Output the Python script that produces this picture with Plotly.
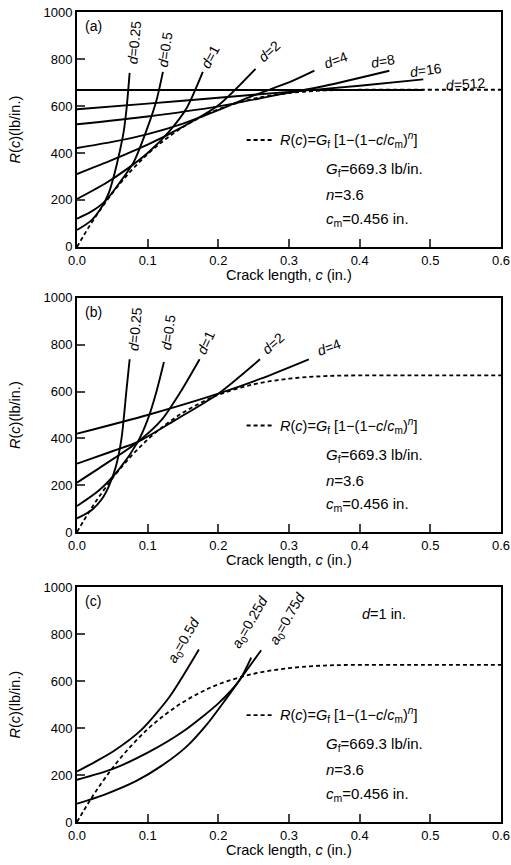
import plotly.graph_objects as go

# ---------------- data ----------------
# Envelope R(c) (dashed), same in all three panels
env_c = [0, 0.01, 0.02, 0.03, 0.05, 0.075, 0.1, 0.125, 0.15, 0.175, 0.2, 0.25, 0.3, 0.35, 0.4, 0.456, 0.5, 0.6]
env_R = [0, 51, 100, 145, 229, 319, 395, 458, 510, 552, 586, 631, 655, 666, 669, 669, 669, 669]

# Panel (a): R-curves for various sizes d
a_d025_c = [0, 0.02, 0.035, 0.045, 0.052, 0.06, 0.066, 0.07, 0.0745]
a_d025_R = [72, 112, 170, 230, 300, 400, 490, 585, 741]
a_d05_c = [0, 0.02, 0.04, 0.06, 0.08, 0.1, 0.113, 0.1216]
a_d05_R = [120, 150, 195, 272, 360, 510, 630, 745]
a_d1_c = [0, 0.04, 0.07, 0.1, 0.13, 0.155, 0.178]
a_d1_R = [204, 270, 330, 400, 490, 590, 745]
a_d2_c = [0, 0.05, 0.1, 0.15, 0.2, 0.2526]
a_d2_R = [310, 370, 435, 512, 603, 758]
a_d4_c = [0, 0.05, 0.1, 0.15, 0.2, 0.25, 0.3, 0.336]
a_d4_R = [421, 447, 480, 525, 582, 645, 700, 750]
a_d8_c = [0, 0.1, 0.2, 0.28, 0.35, 0.442]
a_d8_R = [522, 555, 598, 645, 685, 750]
a_d16_c = [0, 0.1, 0.2, 0.3, 0.4, 0.49]
a_d16_R = [586, 610, 635, 660, 686, 713]
a_d512_c = [0, 0.49]
a_d512_R = [668, 668]

# Panel (b)
b_d025_c = [0, 0.02, 0.035, 0.045, 0.055, 0.063, 0.07, 0.0745]
b_d025_R = [58, 92, 140, 195, 280, 400, 606, 738]
b_d05_c = [0, 0.03, 0.06, 0.086, 0.1, 0.113, 0.123]
b_d05_R = [111, 175, 270, 385, 480, 606, 726]
b_d1_c = [0, 0.04, 0.086, 0.12, 0.148, 0.1735]
b_d1_R = [211, 290, 385, 480, 606, 738]
b_d2_c = [0, 0.05, 0.086, 0.14, 0.2, 0.259]
b_d2_R = [292, 345, 385, 480, 591, 738]
b_d4_c = [0, 0.1, 0.2, 0.26, 0.328]
b_d4_R = [420, 500, 591, 655, 738]

# Panel (c): d = 1 in., various notch depths a0
c_a05_c = [0, 0.025, 0.051, 0.091, 0.131, 0.1725]
c_a05_R = [215, 255, 300, 392, 533, 734]
c_a025_c = [0, 0.05, 0.1, 0.15, 0.2, 0.23, 0.2465]
c_a025_R = [180, 225, 295, 385, 505, 604, 700]
c_a075_c = [0, 0.04, 0.084, 0.12, 0.155, 0.185, 0.21, 0.235, 0.2606]
c_a075_R = [78, 118, 175, 240, 321, 420, 520, 625, 731]

x_ticks = [0, 0.1, 0.2, 0.3, 0.4, 0.5, 0.6]
x_ticklabels = ["0.0", "0.1", "0.2", "0.3", "0.4", "0.5", "0.6"]
y_ticks = [0, 200, 400, 600, 800, 1000]
y_ticklabels = ["0", "200", "400", "600", "800", "1000"]

# ---------------- figure ----------------
FONT = "Liberation Sans"
fig = go.Figure()

panels = [
    ("x", "y", [(a_d025_c, a_d025_R), (a_d05_c, a_d05_R), (a_d1_c, a_d1_R), (a_d2_c, a_d2_R),
                (a_d4_c, a_d4_R), (a_d8_c, a_d8_R), (a_d16_c, a_d16_R), (a_d512_c, a_d512_R)]),
    ("x2", "y2", [(b_d025_c, b_d025_R), (b_d05_c, b_d05_R), (b_d1_c, b_d1_R), (b_d2_c, b_d2_R),
                  (b_d4_c, b_d4_R)]),
    ("x3", "y3", [(c_a05_c, c_a05_R), (c_a025_c, c_a025_R), (c_a075_c, c_a075_R)]),
]

for xa, ya, curves in panels:
    fig.add_trace(go.Scatter(x=env_c, y=env_R, mode="lines", xaxis=xa, yaxis=ya,
                             line=dict(color="black", width=1.8, dash="4px,3px", shape="spline"),
                             showlegend=False, hoverinfo="skip"))
    for cx, cy in curves:
        fig.add_trace(go.Scatter(x=cx, y=cy, mode="lines", xaxis=xa, yaxis=ya,
                                 line=dict(color="black", width=1.9, shape="spline", smoothing=0.7),
                                 showlegend=False, hoverinfo="skip"))

W, H = 511, 865
ML, MR, MT, MB = 77, 10, 12, 43
domains = {"": [0.710, 1.0], "2": [0.358, 0.647], "3": [0.0, 0.290]}
for k, dom in domains.items():
    xa = dict(domain=[0, 1], range=[0, 0.6], tickvals=x_ticks, ticktext=x_ticklabels,
              ticks="inside", ticklen=8, tickwidth=1.5, showline=True, linewidth=2, linecolor="black",
              mirror=True, showgrid=False, zeroline=False, anchor="y" + k, automargin=False,
              ticklabeloverflow="allow",
              tickfont=dict(family=FONT, size=13, color="black"))
    ya = dict(domain=dom, range=[0, 1000], tickvals=y_ticks, ticktext=y_ticklabels,
              ticks="inside", ticklen=8, tickwidth=1.5, showline=True, linewidth=2, linecolor="black",
              mirror=True, showgrid=False, zeroline=False, anchor="x" + k, automargin=False,
              ticklabeloverflow="allow",
              tickfont=dict(family=FONT, size=13, color="black"))
    fig.layout["xaxis" + k] = xa
    fig.layout["yaxis" + k] = ya

ann = []
def A(xr, yr, x, y, text, angle=0, size=13, xanchor="center", yanchor="middle"):
    ann.append(dict(xref=xr, yref=yr, x=x, y=y, text=text, textangle=angle, showarrow=False,
                    xanchor=xanchor, yanchor=yanchor,
                    font=dict(family=FONT, size=size, color="black")))

# axis titles (placed manually)
for k, dom in domains.items():
    A("paper", "paper", 0.5, dom[0], "Crack length, <i>c</i> (in.)", 0, 14.5, "center", "top")
    ann[-1]["yshift"] = -18
    A("paper", "paper", (15 - ML) / (W - ML - MR), (dom[0] + dom[1]) / 2,
      "<i>R</i>(<i>c</i>)(lb/in.)", -90, 14.5)

# panel labels
A("x", "y", 0.023, 940, "(a)", size=14)
A("x2", "y2", 0.023, 940, "(b)", size=14)
A("x3", "y3", 0.023, 940, "(c)", size=14)

# curve labels (a)
A("x", "y", 0.081, 868, "<i>d</i>=0.25", -85, 14)
A("x", "y", 0.124, 840, "<i>d</i>=0.5", -82, 14)
A("x", "y", 0.188, 810, "<i>d</i>=1", -62, 14)
A("x", "y", 0.272, 835, "<i>d</i>=2", -42, 14)
A("x", "y", 0.366, 795, "<i>d</i>=4", -20, 14)
A("x", "y", 0.433, 790, "<i>d</i>=8", -10, 14)
A("x", "y", 0.494, 752, "<i>d</i>=16", -8, 14)
A("x", "y", 0.55, 692, "<i>d</i>=512", -4, 14)

# curve labels (b)
A("x2", "y2", 0.082, 868, "<i>d</i>=0.25", -85, 14)
A("x2", "y2", 0.129, 855, "<i>d</i>=0.5", -82, 14)
A("x2", "y2", 0.182, 808, "<i>d</i>=1", -65, 14)
A("x2", "y2", 0.278, 808, "<i>d</i>=2", -42, 14)
A("x2", "y2", 0.357, 792, "<i>d</i>=4", -20, 14)

# curve labels (c)
A("x3", "y3", 0.152, 775, "<i>a</i><sub>0</sub>=0.5<i>d</i>", -60, 14)
A("x3", "y3", 0.246, 850, "<i>a</i><sub>0</sub>=0.25<i>d</i>", -60, 14)
A("x3", "y3", 0.298, 865, "<i>a</i><sub>0</sub>=0.75<i>d</i>", -60, 14)
A("x3", "y3", 0.435, 885, "<i>d</i>=1 in.", 0, 14.5)

# formula legend blocks
for xr, yr in [("x", "y"), ("x2", "y2"), ("x3", "y3")]:
    A(xr, yr, 0.284, 455,
      "<i>R</i>(<i>c</i>)=<i>G</i><sub>f</sub> [1−(1−<i>c</i>/<i>c</i><sub>m</sub>)<sup><i>n</i></sup>]",
      0, 14.5, "left")
    A(xr, yr, 0.349, 328, "<i>G</i><sub>f</sub>=669.3 lb/in.", 0, 15, "left")
    A(xr, yr, 0.349, 222, "<i>n</i>=3.6", 0, 15, "left")
    A(xr, yr, 0.349, 116, "<i>c</i><sub>m</sub>=0.456 in.", 0, 15, "left")

shapes = []
for xr, yr in [("x", "y"), ("x2", "y2"), ("x3", "y3")]:
    shapes.append(dict(type="line", xref=xr, yref=yr, x0=0.24, x1=0.279, y0=455, y1=455,
                       line=dict(color="black", width=1.8, dash="4px,3px")))

fig.update_layout(width=W, height=H, margin=dict(l=ML, r=MR, t=MT, b=MB, autoexpand=False),
                  paper_bgcolor="white", plot_bgcolor="white",
                  annotations=ann, shapes=shapes, showlegend=False,
                  font=dict(family=FONT, color="black"))

# remove the browser's default 8px body margin so the figure fills the window exactly
fig.write_html("out.html", config={"displayModeBar": False},
               post_script="document.body.style.margin='0px';")
